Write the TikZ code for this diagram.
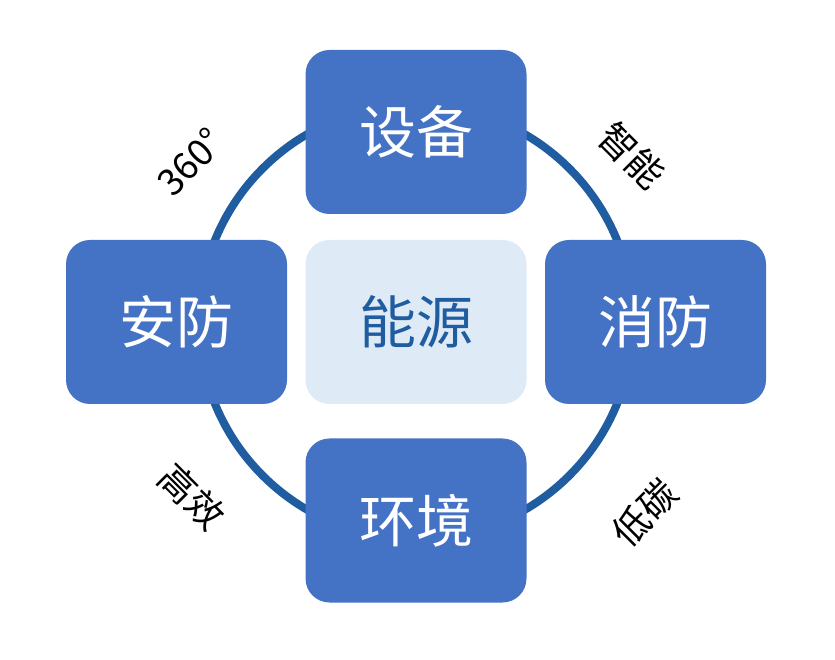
\documentclass[tikz,border=0pt]{standalone}
\usepackage{fontspec}
\newfontfamily\cjk{Noto Sans CJK SC}
\usetikzlibrary{positioning}
\definecolor{boxblue}{HTML}{4472C4}
\definecolor{coreblue}{HTML}{DEEAF6}
\definecolor{ringblue}{HTML}{1F5CA0}
\tikzset{
  blk/.style  = { rectangle, rounded corners=24pt, fill=boxblue, text=white,
    minimum width=221pt, minimum height=164pt, inner sep=0pt,
    font=\cjk\fontsize{57}{60}\selectfont },
  core/.style = { blk, fill=coreblue, text=ringblue },% centre box
  ring/.style = { circle, draw=ringblue, line width=8pt, minimum size=434pt, inner sep=0pt },
  tag/.style  = { inner sep=0pt, font=\cjk\fontsize{37}{40}\selectfont }
}

\begin{document}
\begin{tikzpicture}[x=1pt,y=1pt,on grid]
      \useasboundingbox (0,0) rectangle (835,659);
      % ring behind the boxes
      \node[ring] (rg) at (416,337) {};
      \node[core] (c0) at (416,337) {能源};
      \node[blk, above=190pt of c0] (c1) {设备};
      \node[blk, left=239.5pt of c0] (c2) {安防};
      \node[blk, right=239.5pt of c0] (c3) {消防};
      \node[blk, below=198.5pt of c0] (c4) {环境};
      % words on the diagonals
      \node[tag, rotate=45] (t1) at (190,497) {360°};
      \node[tag, rotate=-45] (t2) at (632,503) {智能};
      \node[tag, rotate=-45] (t3) at (192,162) {高效};
      \node[tag, rotate=45] (t4) at (645,146) {低碳};
    \end{tikzpicture}
\end{document}
